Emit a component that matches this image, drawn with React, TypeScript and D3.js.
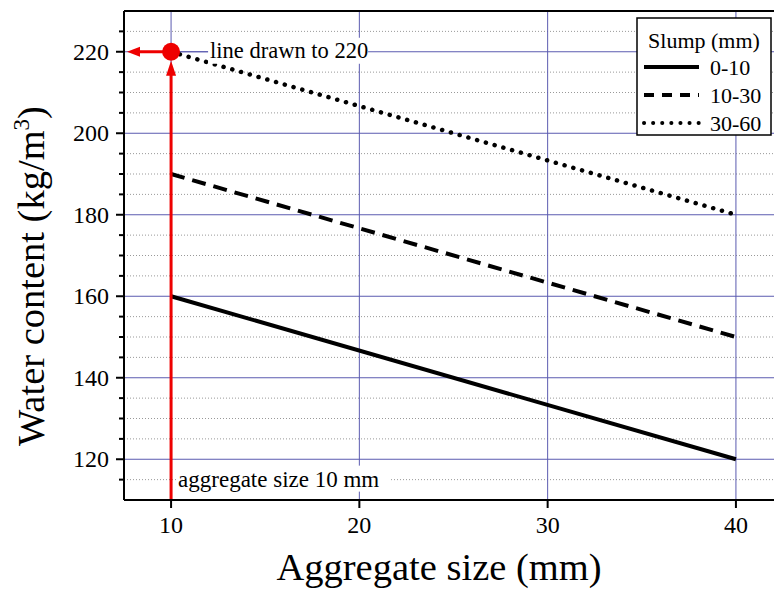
import React from 'react'
import * as d3 from 'd3'

// slump classes and their water content at 10 mm and 40 mm aggregate
const aggregateSizes = [10, 40]
const slumpClasses = ['0-10', '10-30', '30-60']
const waterLow = [160, 120]
const waterMid = [190, 150]
const waterHigh = [220, 180]
const seriesValues = [waterLow, waterMid, waterHigh]
const dashes = ['none', '14 8', '0.1 9']

const xTicks = [10, 20, 30, 40]
const yTicks = [120, 140, 160, 180, 200, 220]
const yMinor = d3.range(115, 230, 5).filter(v => v % 20 !== 0)

const W = 774
const H = 589
const M = { left: 124, top: 11, right: 783, bottom: 500 }

const font = 'Liberation Serif'

export default function App() {
    const x = d3.scaleLinear().domain([7.5, 42.5]).range([M.left, M.right])
    const y = d3.scaleLinear().domain([110, 230]).range([M.bottom, M.top])
    const line = d3.line<number>()
        .x((d, i) => x(aggregateSizes[i]))
        .y(d => y(d))

    const grid = '#5b5bb0'
    const red = '#ee0000'
    const cx = x(10), cy = y(220)

    return (
        <svg width={W} height={H} style={{ position: 'absolute', left: 0, top: 0, fontFamily: font }}>
            <rect width={W} height={H} fill='#fff' />

            {/* minor dotted grid */}
            {yMinor.map(v => (
                <line key={'m' + v} x1={M.left} x2={M.right} y1={y(v)} y2={y(v)}
                      stroke='#999' strokeWidth={1} strokeDasharray='1 2' />
            ))}
            {/* major grid */}
            {yTicks.map(v => (
                <line key={'g' + v} x1={M.left} x2={M.right} y1={y(v)} y2={y(v)}
                      stroke={grid} strokeWidth={1} />
            ))}
            {xTicks.map(v => (
                <line key={'gx' + v} x1={x(v)} x2={x(v)} y1={M.top} y2={M.bottom}
                      stroke={grid} strokeWidth={1} />
            ))}

            {/* series */}
            {seriesValues.map((vals, i) => (
                <path key={slumpClasses[i]} d={line(vals) || ''} fill='none' stroke='#000'
                      strokeWidth={i === 2 ? 4.5 : 4}
                      strokeDasharray={dashes[i] === 'none' ? undefined : dashes[i]}
                      strokeLinecap={i === 2 ? 'round' : 'butt'} />
            ))}

            {/* annotations */}
            <rect x={cx + 37} y={cy - 14} width={160} height={26} fill='#fff' />
            <text x={cx + 39} y={cy + 6} fontSize={22.5} fontFamily={font}>line drawn to 220</text>
            <rect x={cx + 6} y={y(115) - 14} width={214} height={26} fill='#fff' />
            <text x={cx + 7} y={y(115) + 7} fontSize={23} fontFamily={font}>aggregate size 10 mm</text>

            <line x1={cx} x2={cx} y1={M.bottom} y2={cy + 22} stroke={red} strokeWidth={3} />
            <path d={`M${cx},${cy + 9} L${cx - 5},${cy + 24} L${cx + 5},${cy + 24} Z`} fill={red} />
            <line x1={cx} x2={M.left + 14} y1={cy} y2={cy} stroke={red} strokeWidth={3} />
            <path d={`M${M.left + 3},${cy} L${M.left + 16},${cy - 5} L${M.left + 16},${cy + 5} Z`} fill={red} />
            <line x1={cx} x2={cx + 37} y1={cy} y2={cy} stroke={grid} strokeWidth={1} />
            <circle cx={cx} cy={cy} r={9} fill={red} />

            {/* frame and axes */}
            <line x1={M.left} x2={M.right} y1={M.top} y2={M.top} stroke='#000' strokeWidth={2} />
            <line x1={M.left} x2={M.right} y1={M.bottom} y2={M.bottom} stroke='#000' strokeWidth={2} />
            <line x1={M.left} x2={M.left} y1={M.top} y2={M.bottom} stroke='#000' strokeWidth={2} />
            {yTicks.map(v => (
                <g key={'yt' + v}>
                    <line x1={M.left - 8} x2={M.left} y1={y(v)} y2={y(v)} stroke='#000' strokeWidth={2} />
                    <text x={M.left - 15} y={y(v) + 8} fontSize={24} textAnchor='end' fontFamily={font}>{v}</text>
                </g>
            ))}
            {yMinor.map(v => (
                <line key={'ym' + v} x1={M.left - 5} x2={M.left} y1={y(v)} y2={y(v)}
                      stroke='#000' strokeWidth={2} />
            ))}
            {xTicks.map(v => (
                <g key={'xt' + v}>
                    <line x1={x(v)} x2={x(v)} y1={M.bottom} y2={M.bottom + 8} stroke='#000' strokeWidth={2} />
                    <text x={x(v)} y={M.bottom + 33} fontSize={24} textAnchor='middle' fontFamily={font}>{v}</text>
                </g>
            ))}

            <text x={439} y={580} fontSize={38.5} textAnchor='middle' fontFamily={font}>Aggregate size (mm)</text>
            <text transform={`translate(44, 276) rotate(-90)`}
                  fontSize={38.5} textAnchor='middle' fontFamily={font}>
                Water content (kg/m<tspan dy={-15} fontSize={23}>3</tspan><tspan dy={15}>)</tspan>
            </text>

            {/* legend */}
            <g>
                <rect x={637} y={18} width={134} height={117} fill='#fff' stroke='#000' strokeWidth={1.5} />
                <text x={704} y={48} fontSize={22} textAnchor='middle' fontFamily={font}>Slump (mm)</text>
                {slumpClasses.map((s, i) => {
                    const ly = 67 + i * 28
                    return (
                        <g key={'lg' + s}>
                            <line x1={644} x2={699} y1={ly} y2={ly} stroke='#000'
                                  strokeWidth={4}
                                  strokeDasharray={i === 1 ? '10 8' : i === 2 ? '0.1 9' : undefined}
                                  strokeLinecap={i === 2 ? 'round' : 'butt'} />
                            <text x={710} y={ly + 8} fontSize={22} fontFamily={font}>{s}</text>
                        </g>
                    )
                })}
            </g>
        </svg>
    )
}
